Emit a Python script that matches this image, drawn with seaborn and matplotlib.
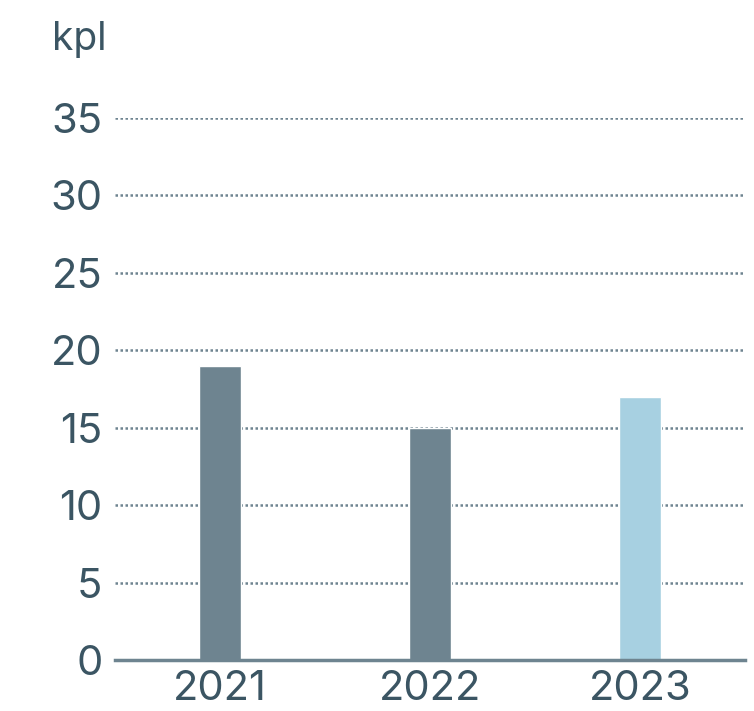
import matplotlib
matplotlib.use("Agg")
import matplotlib.pyplot as plt
import pandas as pd
import seaborn as sns

years = ["2021", "2022", "2023"]
values = [19, 15, 17]
bar_colors = ["#6e8490", "#6e8490", "#a7d0e1"]
y_ticks = [0, 5, 10, 15, 20, 25, 30, 35]
unit_label = "kpl"

TEXT = "#3b5563"
GRID = "#6e8490"

sns.set_style("white")
plt.rcParams["font.family"] = ["Inter", "DejaVu Sans"]

df = pd.DataFrame({"year": years, "value": values})

fig = plt.figure(figsize=(7.54, 7.11), dpi=100)
ax = fig.add_axes([0.1525, 0.0717, 0.8355, 0.7623])

sns.barplot(
    data=df, x="year", y="value", hue="year", palette=bar_colors,
    width=0.2, legend=False, ax=ax, saturation=1, zorder=3,
)

ax.set_ylim(0, 35)
ax.set_xlim(-0.5, 2.5)
ax.set_yticks(y_ticks)
ax.yaxis.grid(True, linestyle=(0, (1, 1)), color=GRID, linewidth=1.8, zorder=0)
ax.set_axisbelow(True)
for s in ["top", "right", "left"]:
    ax.spines[s].set_visible(False)
ax.spines["bottom"].set_color(GRID)
ax.spines["bottom"].set_linewidth(2.5)
ax.spines["bottom"].set_zorder(4)

ax.tick_params(axis="both", length=0, labelsize=30, labelcolor=TEXT)
ax.tick_params(axis="y", pad=9)
ax.tick_params(axis="x", pad=7)
ax.set_xlabel("")
ax.set_ylabel("")

fig.text(0.069, 0.944, unit_label, fontsize=28, color=TEXT, ha="left", va="center")

fig.savefig("out.png", dpi=100)
plt.close(fig)
